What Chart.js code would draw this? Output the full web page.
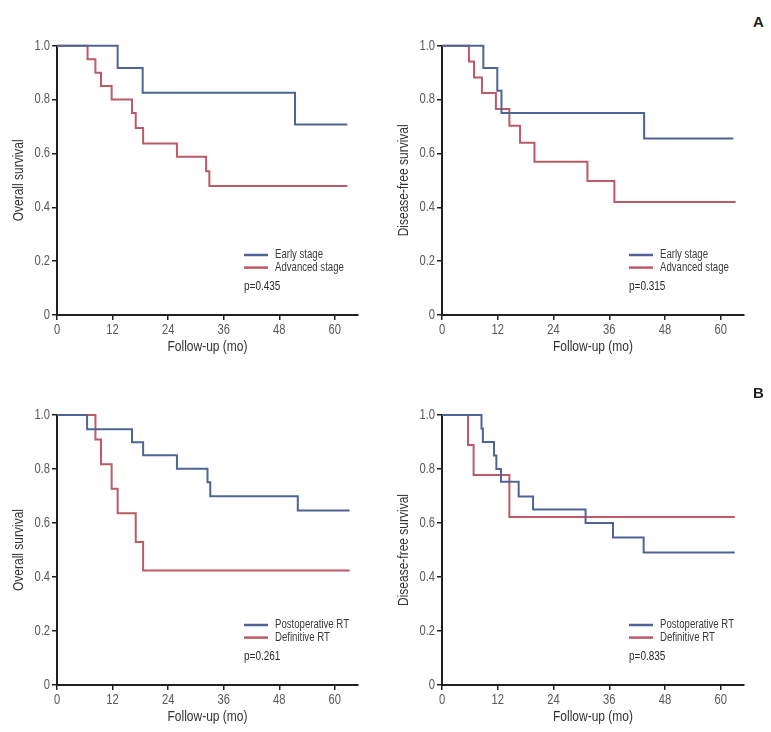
<!DOCTYPE html>
<html>
<head>
<meta charset="utf-8">
<script src="https://cdn.jsdelivr.net/npm/chart.js@4.4.1/dist/chart.umd.min.js"></script>
<style>
  html, body { margin: 0; padding: 0; background: #fff; }
  body { width: 771px; height: 732px; position: relative; overflow: hidden; }
  canvas { position: absolute; }
  .tag { position: absolute; font-family: 'Liberation Sans', Arial, sans-serif; font-weight: bold; font-size: 15px; color: #231f20; }
</style>
</head>
<body>
<canvas id="c1" width="385" height="340" style="left:0;top:30px;"></canvas>
<canvas id="c2" width="386" height="340" style="left:385px;top:30px;"></canvas>
<canvas id="c3" width="385" height="340" style="left:0;top:400px;"></canvas>
<canvas id="c4" width="386" height="340" style="left:385px;top:400px;"></canvas>
<div class="tag" style="left:753px;top:13px;">A</div>
<div class="tag" style="left:753px;top:384px;">B</div>
<script>
// ---- Tick labels ----
const xTickLabels = ['0', '12', '24', '36', '48', '60'];
const yTickLabels = ['0', '0.2', '0.4', '0.6', '0.8', '1.0'];

// ---- Panel A: by stage ----
const stageLabels = ['Early stage', 'Advanced stage'];
// Overall survival
const osEarlyT = [0, 13.1, 18.5, 51.4, 62.7];
const osEarlyS = [1, 0.917, 0.825, 0.707, 0.707];
const osAdvT = [0, 6.6, 8.3, 9.5, 11.8, 16.2, 17.0, 18.6, 25.9, 32.2, 32.9, 62.7];
const osAdvS = [1, 0.95, 0.90, 0.85, 0.80, 0.75, 0.694, 0.637, 0.588, 0.534, 0.479, 0.479];
// Disease-free survival
const dfsEarlyT = [0, 8.9, 11.9, 12.8, 43.5, 62.7];
const dfsEarlyS = [1, 0.917, 0.833, 0.75, 0.655, 0.655];
const dfsAdvT = [0, 5.8, 6.9, 8.6, 11.6, 14.5, 16.8, 19.9, 31.3, 37.1, 63.2];
const dfsAdvS = [1, 0.941, 0.882, 0.824, 0.765, 0.703, 0.640, 0.569, 0.498, 0.420, 0.420];

// ---- Panel B: by treatment ----
const rtLabels = ['Postoperative RT', 'Definitive RT'];
const osPostT = [0, 6.5, 16.2, 18.6, 25.9, 32.5, 33.1, 52.0, 63.2];
const osPostS = [1, 0.947, 0.899, 0.851, 0.801, 0.751, 0.699, 0.646, 0.646];
const osDefT = [0, 8.3, 9.5, 11.8, 13.1, 17.0, 18.6, 63.2];
const osDefS = [1, 0.909, 0.818, 0.727, 0.636, 0.530, 0.424, 0.424];
const dfsPostT = [0, 8.5, 8.8, 11.2, 11.7, 12.7, 16.5, 19.6, 30.9, 36.8, 43.4, 63.0];
const dfsPostS = [1, 0.95, 0.90, 0.85, 0.80, 0.753, 0.698, 0.65, 0.60, 0.546, 0.491, 0.491];
const dfsDefT = [0, 5.6, 6.8, 14.5, 63.0];
const dfsDefS = [1, 0.889, 0.778, 0.622, 0.622];

// ---- p-values ----
const pValues = ['p=0.435', 'p=0.315', 'p=0.261', 'p=0.835'];

const BLUE = '#4e6494';
const RED = '#bc5a68';
const AXIS = '#231f20';
const FONT = "'Liberation Sans', Arial, sans-serif";
const NARROW = 0.8; // horizontal text condensing

// condensed text rendering (the original uses a narrow typeface)
const narrowText = {
  id: 'narrowText',
  beforeInit(chart) {
    const ctx = chart.ctx;
    ctx.fillText = function (text, x, y, maxWidth) {
      this.save();
      this.translate(x, y);
      this.scale(NARROW, 1);
      if (maxWidth === undefined) {
        CanvasRenderingContext2D.prototype.fillText.call(this, text, 0, 0);
      } else {
        CanvasRenderingContext2D.prototype.fillText.call(this, text, 0, 0, maxWidth / NARROW);
      }
      this.restore();
    };
  }
};

function pts(t, s) { return t.map((x, i) => ({ x: x, y: s[i] })); }

const legendPlugin = {
  id: 'kmLegend',
  afterDraw(chart, args, opts) {
    const ctx = chart.ctx;
    const a = chart.chartArea;
    const x0 = a.left + 187;
    let y = a.bottom - 60;
    ctx.save();
    ctx.font = '12px ' + FONT;
    ctx.textBaseline = 'middle';
    ctx.textAlign = 'left';
    chart.data.datasets.forEach(ds => {
      ctx.strokeStyle = ds.borderColor;
      ctx.lineWidth = 2.5;
      ctx.beginPath();
      ctx.moveTo(x0, y);
      ctx.lineTo(x0 + 24, y);
      ctx.stroke();
      ctx.fillStyle = '#3a3a3a';
      ctx.fillText(ds.label, x0 + 31, y);
      y += 12.6;
    });
    ctx.fillStyle = '#2a2a2a';
    ctx.font = '12.5px ' + FONT;
    ctx.fillText(opts.p, x0, a.bottom - 28);
    ctx.restore();
  }
};

function makePanel(id, yTitle, labels, series, p, top) {
  const datasets = series.map((s, i) => ({
    label: labels[i],
    data: pts(s[0], s[1]),
    borderColor: i === 0 ? BLUE : RED,
    borderWidth: 2,
    pointRadius: 0,
    stepped: 'before',
    fill: false,
    clip: false,
    order: i
  }));
  new Chart(document.getElementById(id), {
    type: 'line',
    data: { datasets: datasets },
    options: {
      responsive: false,
      animation: false,
      devicePixelRatio: 1,
      layout: { padding: { top: top, right: 27, left: 0, bottom: 0 } },
      plugins: {
        legend: { display: false },
        tooltip: { enabled: false },
        kmLegend: { p: p }
      },
      scales: {
        x: {
          type: 'linear',
          min: 0, max: 65,
          afterFit(scale) { scale.height = 55; },
          ticks: {
            stepSize: 12, includeBounds: false, maxRotation: 0, autoSkip: false,
            padding: 2,
            color: '#58595b',
            font: { family: FONT, size: 14 },
            callback: (v, i) => xTickLabels[i]
          },
          grid: { display: true, drawOnChartArea: false, drawTicks: true, tickLength: 5, color: AXIS, lineWidth: 1.5 },
          border: { display: true, color: AXIS, width: 2 },
          title: { display: true, text: 'Follow-up (mo)', color: '#333', font: { family: FONT, size: 15 }, padding: { top: 0, bottom: 14 } }
        },
        y: {
          type: 'linear',
          min: 0, max: 1,
          afterFit(scale) { scale.width = 57; },
          ticks: {
            stepSize: 0.2,
            padding: 2,
            color: '#58595b',
            font: { family: FONT, size: 14 },
            callback: (v, i) => yTickLabels[i]
          },
          grid: { display: true, drawOnChartArea: false, drawTicks: true, tickLength: 5, color: AXIS, lineWidth: 1.5 },
          border: { display: true, color: AXIS, width: 2 },
          title: { display: true, text: yTitle, color: '#333', font: { family: FONT, size: 15 }, padding: { top: 10, bottom: 0 } }
        }
      }
    },
    plugins: [narrowText, legendPlugin]
  });
}

makePanel('c1', 'Overall survival', stageLabels, [[osEarlyT, osEarlyS], [osAdvT, osAdvS]], pValues[0], 15.7);
makePanel('c2', 'Disease-free survival', stageLabels, [[dfsEarlyT, dfsEarlyS], [dfsAdvT, dfsAdvS]], pValues[1], 15.7);
makePanel('c3', 'Overall survival', rtLabels, [[osPostT, osPostS], [osDefT, osDefS]], pValues[2], 15);
makePanel('c4', 'Disease-free survival', rtLabels, [[dfsPostT, dfsPostS], [dfsDefT, dfsDefS]], pValues[3], 15);
</script>
</body>
</html>
